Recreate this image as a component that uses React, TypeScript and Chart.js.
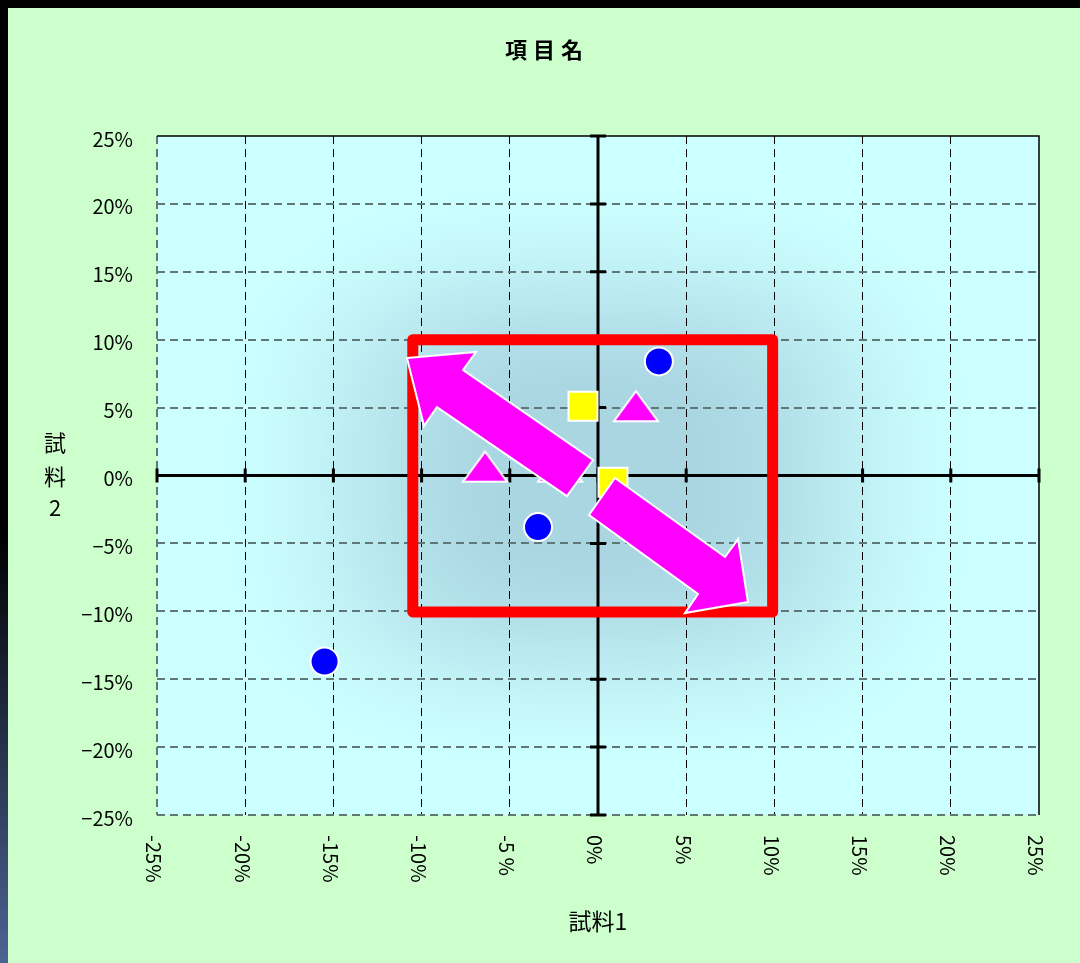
import React, { useEffect, useRef } from "react";
import { Chart, registerables } from "chart.js";

Chart.register(...registerables);

const FONT = "'Noto Sans CJK JP', 'Noto Sans', sans-serif";

const chartTitle = ["項", "目", "名"];
const xAxisTitle = "試料1";
const yAxisTitle = ["試", "料", "2"];

const xTicks = [-25, -20, -15, -10, -5, 0, 5, 10, 15, 20, 25];
const xTickLabels = ["-25%", "-20%", "-15%", "-10%", "-5 %", "0%", "5%", "10%", "15%", "20%", "25%"];
const yTicks = [-25, -20, -15, -10, -5, 0, 5, 10, 15, 20, 25];
const yTickLabels = ["\u221225%", "\u221220%", "\u221215%", "\u221210%", "\u22125%", "0%", "5%", "10%", "15%", "20%", "25%"];

// series (percent)
const circleX = [-15.5, -3.4, 3.45];
const circleY = [-13.7, -3.8, 8.4];
const squareX = [-0.85, 0.85];
const squareY = [5.1, -0.5];
const triangleX = [-6.4, -2.15, 2.15];
const triangleY = [0.65, 0.65, 5.1];

// annotation shapes (data units)
const frameX = [-10.5, 9.9];
const frameY = [-10.05, 10.0];
const arrowUpX = [-10.83, -6.92, -7.65, -0.28, -1.76, -9.13, -9.86];
const arrowUpY = [8.65, 9.09, 7.77, 1.14, -1.51, 5.04, 3.65];
const arrowDownX = [0.96, 7.2, 7.94, 8.5, 4.93, 5.67, -0.51];
const arrowDownY = [-0.18, -6.0, -4.68, -9.32, -10.13, -8.73, -2.91];

function makeTriangle(): HTMLCanvasElement {
  const c = document.createElement("canvas");
  c.width = 48;
  c.height = 34;
  const g = c.getContext("2d")!;
  g.beginPath();
  g.moveTo(24, 2);
  g.lineTo(46, 32);
  g.lineTo(2, 32);
  g.closePath();
  g.fillStyle = "#FF00FF";
  g.fill();
  g.strokeStyle = "#FFFFFF";
  g.lineWidth = 2;
  g.lineJoin = "miter";
  g.stroke();
  return c;
}

const decor = {
  id: "decor",
  beforeDraw(chart: any) {
    const { ctx, chartArea: a, width, height } = chart;
    ctx.save();
    ctx.fillStyle = "#CCFFCC";
    ctx.fillRect(0, 0, width, height);
    const w = Math.round(a.right - a.left);
    const h = Math.round(a.bottom - a.top);
    const off = document.createElement("canvas");
    off.width = w;
    off.height = h;
    const g = off.getContext("2d")!;
    const img = g.createImageData(w, h);
    const c0 = [170, 214, 226];
    const c1 = [204, 255, 255];
    for (let j = 0; j < h; j++) {
      const dy = Math.abs((j - h / 2) / (h / 2));
      for (let i = 0; i < w; i++) {
        const dx = Math.abs((i - w / 2) / (w / 2));
        const r = Math.pow(Math.pow(dx, 3) + Math.pow(dy, 3), 1 / 3);
        let t = (r - 0.2) / 0.68;
        t = Math.max(0, Math.min(1, t));
        t = t * t * (3 - 2 * t);
        const k = (j * w + i) * 4;
        img.data[k] = c0[0] + (c1[0] - c0[0]) * t;
        img.data[k + 1] = c0[1] + (c1[1] - c0[1]) * t;
        img.data[k + 2] = c0[2] + (c1[2] - c0[2]) * t;
        img.data[k + 3] = 255;
      }
    }
    g.putImageData(img, 0, 0);
    ctx.drawImage(off, a.left, a.top);
    ctx.restore();
  },
  beforeDatasetsDraw(chart: any) {
    const { ctx, chartArea: a, scales } = chart;
    const xs = scales.x;
    const ys = scales.y;
    ctx.save();
    // top / right border
    ctx.strokeStyle = "#000";
    ctx.lineWidth = 1.5;
    ctx.beginPath();
    ctx.moveTo(a.left, a.top);
    ctx.lineTo(a.right, a.top);
    ctx.lineTo(a.right, a.bottom);
    ctx.stroke();
    // zero axes
    const x0 = xs.getPixelForValue(0);
    const y0 = ys.getPixelForValue(0);
    ctx.lineWidth = 3;
    ctx.beginPath();
    ctx.moveTo(a.left, y0);
    ctx.lineTo(a.right, y0);
    ctx.moveTo(x0, a.top);
    ctx.lineTo(x0, a.bottom);
    ctx.stroke();
    ctx.lineWidth = 3;
    ctx.beginPath();
    for (const v of xTicks) {
      const px = xs.getPixelForValue(v);
      ctx.moveTo(px, y0 - 7);
      ctx.lineTo(px, y0 + 7);
    }
    for (const v of yTicks) {
      const py = ys.getPixelForValue(v);
      ctx.moveTo(x0 - 8, py);
      ctx.lineTo(x0 + 8, py);
    }
    ctx.stroke();
    ctx.restore();
  },
  afterDatasetsDraw(chart: any) {
    const { ctx, scales } = chart;
    const xs = scales.x;
    const ys = scales.y;
    ctx.save();
    // red frame
    const l = xs.getPixelForValue(frameX[0]);
    const r = xs.getPixelForValue(frameX[1]);
    const b = ys.getPixelForValue(frameY[0]);
    const t = ys.getPixelForValue(frameY[1]);
    ctx.strokeStyle = "#FF0000";
    ctx.lineWidth = 11;
    ctx.lineJoin = "round";
    ctx.strokeRect(l, t, r - l, b - t);
    // arrows
    const drawPoly = (px: number[], py: number[]) => {
      ctx.beginPath();
      px.forEach((v, i) => {
        const X = xs.getPixelForValue(v);
        const Y = ys.getPixelForValue(py[i]);
        if (i === 0) ctx.moveTo(X, Y);
        else ctx.lineTo(X, Y);
      });
      ctx.closePath();
      ctx.fillStyle = "#FF00FF";
      ctx.fill();
      ctx.strokeStyle = "#FFFFFF";
      ctx.lineWidth = 2;
      ctx.lineJoin = "miter";
      ctx.stroke();
    };
    drawPoly(arrowUpX, arrowUpY);
    drawPoly(arrowDownX, arrowDownY);
    ctx.restore();
  },
  afterDraw(chart: any) {
    const { ctx, chartArea: a, scales, width } = chart;
    const xs = scales.x;
    ctx.save();
    ctx.fillStyle = "#000";
    // title
    ctx.font = `bold 22px ${FONT}`;
    ctx.textAlign = "center";
    ctx.textBaseline = "middle";
    chartTitle.forEach((ch, i) => {
      ctx.fillText(ch, width / 2 + (i - 1) * 28, 42);
    });
    // x tick labels (rotated clockwise)
    ctx.font = `20px ${FONT}`;
    xTicks.forEach((v, i) => {
      const px = xs.getPixelForValue(v) - 3;
      ctx.save();
      ctx.translate(px, a.bottom + 20);
      ctx.rotate(Math.PI / 2);
      ctx.textAlign = "left";
      ctx.textBaseline = "middle";
      ctx.fillText(xTickLabels[i], 0, 0);
      ctx.restore();
    });
    // x axis title
    ctx.font = `23px ${FONT}`;
    ctx.textAlign = "center";
    ctx.textBaseline = "middle";
    ctx.fillText(xAxisTitle, (a.left + a.right) / 2, 913);
    // y axis title (stacked)
    ctx.font = `22px ${FONT}`;
    const yPos = [435, 469, 500];
    yAxisTitle.forEach((ch, i) => ctx.fillText(ch, 47, yPos[i]));
    ctx.restore();
  },
};

export default function App() {
  const ref = useRef<HTMLCanvasElement>(null);
  useEffect(() => {
    const tri = makeTriangle();
    const chart = new Chart(ref.current!, {
      type: "scatter",
      data: {
        datasets: [
          {
            label: "circle",
            data: circleX.map((x, i) => ({ x, y: circleY[i] })),
            pointStyle: "circle",
            pointRadius: 14,
            backgroundColor: "#0000FF",
            borderColor: "#FFFFFF",
            borderWidth: 2,
          },
          {
            label: "square",
            data: squareX.map((x, i) => ({ x, y: squareY[i] })),
            pointStyle: "rect",
            pointRadius: 20.5,
            backgroundColor: "#FFFF00",
            borderColor: "#FFFFFF",
            borderWidth: 2,
          },
          {
            label: "triangle",
            data: triangleX.map((x, i) => ({ x, y: triangleY[i] })),
            pointStyle: tri as any,
            pointRadius: 20,
            backgroundColor: "#FF00FF",
            borderColor: "#FFFFFF",
            borderWidth: 2,
          },
        ],
      },
      options: {
        responsive: false,
        animation: false,
        events: [],
        layout: { padding: { top: 128, right: 41, bottom: 0, left: 0 } },
        plugins: {
          legend: { display: false },
          title: { display: false },
          tooltip: { enabled: false },
        },
        scales: {
          x: {
            type: "linear",
            min: -25,
            max: 25,
            afterFit: (s: any) => {
              s.height = 148;
            },
            afterBuildTicks: (s: any) => {
              s.ticks = xTicks.map((v) => ({ value: v }));
            },
            ticks: { display: false },
            grid: {
              drawTicks: false,
              color: (c: any) =>
                c.tick && (c.tick.value === 25 || c.tick.value === 0)
                  ? "rgba(0,0,0,0)"
                  : c.tick && c.tick.value === -25
                  ? "#5F7777"
                  : "#000000",
              lineWidth: (c: any) => (c.tick && c.tick.value === -25 ? 2 : 1),
            },
            border: { display: false, dash: [8, 5] },
          },
          y: {
            type: "linear",
            min: -25,
            max: 25,
            afterFit: (s: any) => {
              s.width = 149;
            },
            afterBuildTicks: (s: any) => {
              s.ticks = yTicks.map((v) => ({ value: v }));
            },
            ticks: {
              padding: 24,
              labelOffset: 3,
              color: "#000",
              font: { size: 20, family: FONT },
              callback: (v: any) => {
                const i = yTicks.indexOf(Number(v));
                return i >= 0 ? yTickLabels[i] : "";
              },
            },
            grid: {
              drawTicks: false,
              color: (c: any) =>
                c.tick && (c.tick.value === 25 || c.tick.value === 0)
                  ? "rgba(0,0,0,0)"
                  : "#5F7777",
              lineWidth: 2,
            },
            border: { display: false, dash: [8, 5] },
          },
        },
      },
      plugins: [decor],
    } as any);
    return () => chart.destroy();
  }, []);
  return (
    <div
      style={{
        position: "absolute",
        left: 0,
        top: 0,
        width: 1080,
        height: 963,
        background: "#000",
        overflow: "hidden",
      }}
    >
      <div
        style={{
          position: "absolute",
          left: 0,
          top: 0,
          width: 8,
          height: 963,
          background: "linear-gradient(to bottom, #000 0%, #000 55%, #4c6494 100%)",
        }}
      />
      <canvas
        ref={ref}
        width={1072}
        height={955}
        style={{ position: "absolute", left: 8, top: 8, width: 1072, height: 955 }}
      />
    </div>
  );
}
